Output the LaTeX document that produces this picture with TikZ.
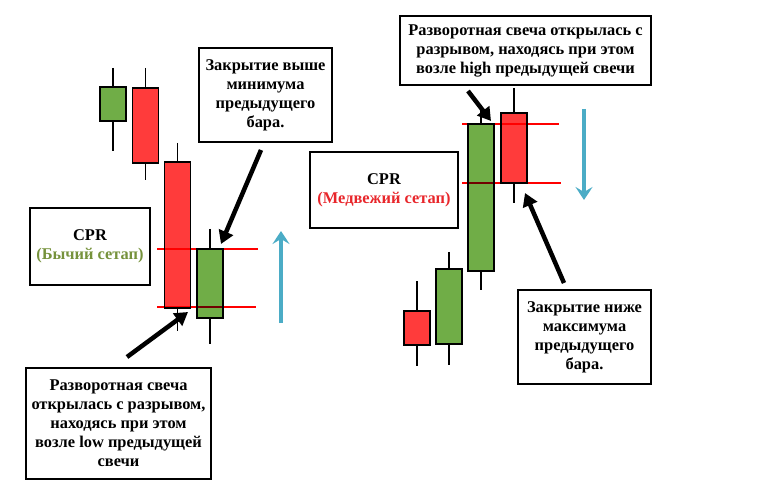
\documentclass[tikz,border=0pt]{standalone}
\usepackage{fontspec}
\setmainfont{Liberation Serif}
\usetikzlibrary{arrows.meta}

\definecolor{bullgreen}{HTML}{70AD47}
\definecolor{bearred}{HTML}{FF3B3B}
\definecolor{trendblue}{HTML}{4BACC6}
\definecolor{setupgreen}{HTML}{76923C}
\definecolor{setupred}{HTML}{E8262B}

\tikzset{
  bull/.style={draw=black, fill=bullgreen, line width=1.3bp},
  bear/.style={draw=black, fill=bearred, line width=1.3bp},
  wick/.style={line width=1.2bp},
  level/.style={red, line width=2bp},
  cue/.style={line width=4.5bp, -{Triangle[length=13bp,width=15bp]}},
  trend/.style={trendblue, line width=4bp, -{Stealth[length=13bp,width=17bp,inset=5bp]}},
  note/.style={draw, line width=1.2bp, align=center, inner sep=0pt,
    font=\fontsize{16.4bp}{19bp}\selectfont\bfseries}
}

% style, x, wick top, body top, body bottom, wick bottom
\newcommand{\drawcandle}[6]{%
  \draw[wick] (#2,#3) -- (#2,#6);
  \draw[#1] (#2-13,#4) rectangle (#2+13,#5);
}

\begin{document}
\begin{tikzpicture}[x=1bp, y=-1bp]
      \useasboundingbox (0,0) rectangle (757,492);

      % bullish setup
      \drawcandle{bull}{113}{68}{87}{121}{151}
      \drawcandle{bear}{145.5}{68}{88}{163}{180}
      \drawcandle{bear}{177.5}{143}{162}{308}{331}
      \drawcandle{bull}{210}{229}{249}{318}{344}

      % bearish setup
      \drawcandle{bear}{417}{281}{311}{345}{366}
      \drawcandle{bull}{449}{252}{269}{344}{365}
      \drawcandle{bull}{481}{107}{124}{271}{290}
      \drawcandle{bear}{514}{88}{113}{183}{203}

      \begin{scope}[blend mode=multiply]
        \draw[level] (157,249) -- (258,249);
        \draw[level] (157,307) -- (256,307);
        \draw[level] (462,124) -- (559,124);
        \draw[level] (462,183) -- (561,183);
      \end{scope}

      \node[note, minimum width=120bp, minimum height=77bp] (cprBull) at (90,246.5)
        {CPR\\\textcolor{setupgreen}{(Бычий сетап)}};
      \node[note, minimum width=148bp, minimum height=76bp] (cprBear) at (384,190)
        {CPR\\\textcolor{setupred}{(Медвежий сетап)}};

      \node[note, minimum width=133bp, minimum height=94bp] (closeAbove) at (265.5,95)
        {Закрытие выше\\минимума\\предыдущего\\бара.};
      \node[note, minimum width=185bp, minimum height=111bp] (gapLow) at (118.5,423.5)
        {Разворотная свеча\\открылась с разрывом,\\находясь при этом\\возле low предыдущей\\свечи};
      \node[note, minimum width=251bp, minimum height=69bp] (gapHigh) at (525.5,50.5)
        {Разворотная свеча открылась с\\разрывом, находясь при этом\\возле high предыдущей свечи};
      \node[note, minimum width=133bp, minimum height=94bp] (closeBelow) at (584.5,337)
        {Закрытие ниже\\максимума\\предыдущего\\бара.};

      \coordinate (lowTail) at (127,357);
      \coordinate (lowTip) at (188,312);
      \coordinate (aboveTail) at (261,150);
      \coordinate (aboveTip) at (221,244);
      \coordinate (highTail) at (468,91);
      \coordinate (highTip) at (491,121);
      \coordinate (belowTail) at (564,283);
      \coordinate (belowTip) at (525,193);

      \draw[cue] (lowTail) -- (lowTip);
      \draw[cue] (aboveTail) -- (aboveTip);
      \draw[cue] (highTail) -- (highTip);
      \draw[cue] (belowTail) -- (belowTip);

      \coordinate (upFrom) at (281,323);
      \coordinate (upTo) at (281,231);
      \coordinate (downFrom) at (584,109);
      \coordinate (downTo) at (584,200);
      \draw[trend] (upFrom) -- (upTo);
      \draw[trend] (downFrom) -- (downTo);

    \end{tikzpicture}
\end{document}
